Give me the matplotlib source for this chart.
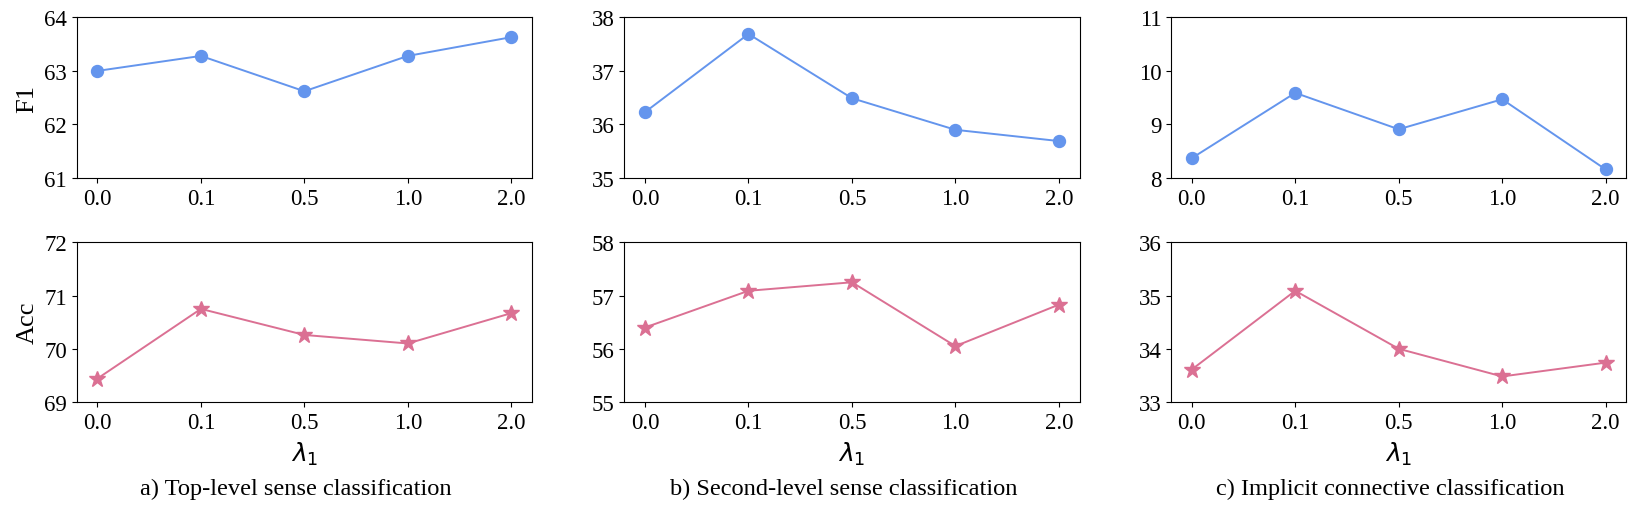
import matplotlib
matplotlib.use("Agg")
import matplotlib.pyplot as plt

plt.rcParams['font.family'] = ['Liberation Serif', 'DejaVu Serif']
plt.rcParams['mathtext.fontset'] = 'dejavusans'

lambdas = ["0.0", "0.1", "0.5", "1.0", "2.0"]

# F1 (top row)
f1_top = [63.0, 63.28, 62.62, 63.28, 63.63]
f1_second = [36.23, 37.69, 36.49, 35.90, 35.69]
f1_conn = [8.37, 9.59, 8.91, 9.47, 8.16]

# Acc (bottom row)
acc_top = [69.44, 70.75, 70.26, 70.10, 70.67]
acc_second = [56.40, 57.09, 57.25, 56.05, 56.83]
acc_conn = [33.61, 35.09, 34.00, 33.48, 33.74]

f1_ylims = [(61, 64), (35, 38), (8, 11)]
acc_ylims = [(69, 72), (55, 58), (33, 36)]

captions = ["a) Top-level sense classification",
            "b) Second-level sense classification",
            "c) Implicit connective classification"]

blue = "#6495ED"
pink = "#DB7093"

fig = plt.figure(figsize=(16.36, 5.10), dpi=100)

lefts = [0.0469, 0.3816, 0.7158]
w = 0.2783
x = list(range(len(lambdas)))

for i, (f1, acc) in enumerate(zip([f1_top, f1_second, f1_conn],
                                  [acc_top, acc_second, acc_conn])):
    ax1 = fig.add_axes([lefts[i], 0.649, w, 0.315])
    ax2 = fig.add_axes([lefts[i], 0.2098, w, 0.313])

    ax1.plot(x, f1, color=blue, marker='o', markersize=8.6, linewidth=1.4)
    ax2.plot(x, acc, color=pink, marker='*', markersize=12, linewidth=1.4)

    ax1.set_ylim(*f1_ylims[i])
    ax2.set_ylim(*acc_ylims[i])
    ax1.set_yticks(range(f1_ylims[i][0], f1_ylims[i][1] + 1))
    ax2.set_yticks(range(acc_ylims[i][0], acc_ylims[i][1] + 1))

    for ax in (ax1, ax2):
        ax.set_xticks(x)
        ax.set_xticklabels(lambdas)
        ax.tick_params(labelsize=16.5)

    ax2.set_xlabel(r'$\lambda_1$', fontsize=18, labelpad=5)
    # caption under each column
    fig.text(lefts[i] + w / 2 - 0.005, 0.029, captions[i],
             ha='center', va='baseline', fontsize=17.6)

    if i == 0:
        ax1.set_ylabel("F1", fontsize=19)
        ax2.set_ylabel("Acc", fontsize=19)

fig.savefig("out.png", dpi=100)
